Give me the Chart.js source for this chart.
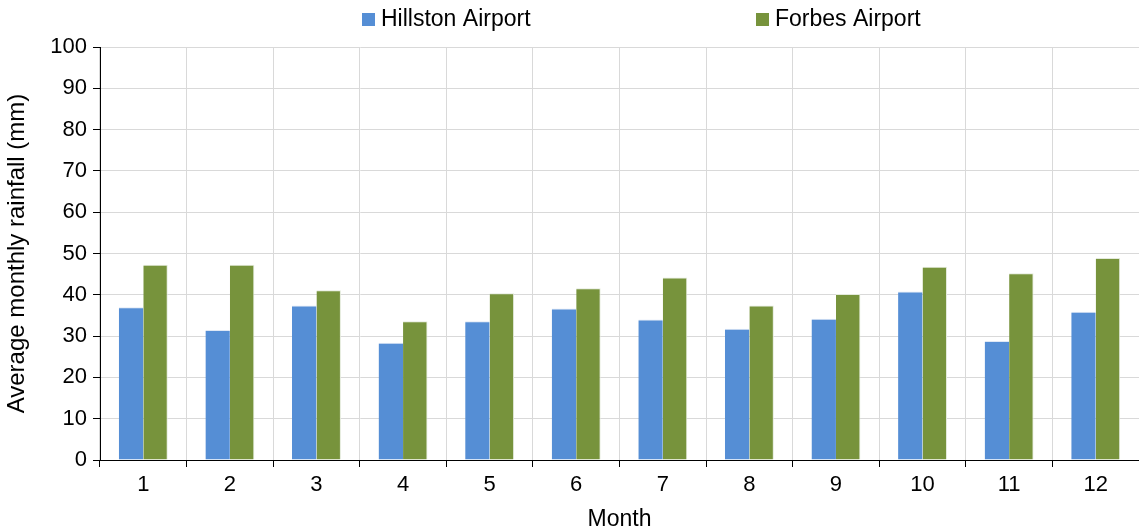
<!DOCTYPE html>
<html>
<head>
<meta charset="utf-8">
<script src="https://cdn.jsdelivr.net/npm/chart.js@4.4.1/dist/chart.umd.min.js"></script>
<style>
  html, body { margin: 0; padding: 0; background: #fff; }
  #wrap { width: 1139px; height: 531px; position: relative; }
</style>
</head>
<body>
<div id="wrap"><canvas id="chart"></canvas></div>
<script>
const months = ['1', '2', '3', '4', '5', '6', '7', '8', '9', '10', '11', '12'];
const hillston = [37.0, 31.5, 37.4, 28.4, 33.6, 36.7, 34.0, 31.8, 34.2, 40.8, 28.8, 35.9];
const forbes = [47.3, 47.3, 41.1, 33.6, 40.4, 41.6, 44.2, 37.4, 40.2, 46.8, 45.2, 48.9];
const seriesNames = ['Hillston Airport', 'Forbes Airport'];
const seriesColors = ['#558ED5', '#77933C'];

const FONT = 'Liberation Sans, Arial, sans-serif';

// legend drawn by hand: the built-in one can't space the two items this far apart
const wideLegend = {
  id: 'wideLegend',
  afterDraw(chart) {
    const ctx = chart.ctx;
    const xs = [362, 756];
    ctx.save();
    ctx.font = '23px ' + FONT;
    ctx.textBaseline = 'middle';
    seriesNames.forEach((name, i) => {
      ctx.fillStyle = seriesColors[i];
      ctx.fillRect(xs[i], 13, 13, 13);
      ctx.fillStyle = '#000';
      ctx.fillText(name, xs[i] + 19, 20);
    });
    ctx.restore();
  }
};

new Chart(document.getElementById('chart'), {
  type: 'bar',
  data: {
    labels: months,
    datasets: [
      {
        label: seriesNames[0],
        data: hillston,
        backgroundColor: seriesColors[0],
        borderColor: '#dfe8f5',
        borderWidth: { left: 0, right: 0, top: 1, bottom: 0 },
        categoryPercentage: 0.565,
        barPercentage: 1.0
      },
      {
        label: seriesNames[1],
        data: forbes,
        backgroundColor: seriesColors[1],
        borderColor: '#e3eadb',
        borderWidth: { left: 0, right: 1, top: 1, bottom: 0 },
        categoryPercentage: 0.565,
        barPercentage: 1.0
      }
    ]
  },
  options: {
    responsive: true,
    maintainAspectRatio: false,
    animation: false,
    // the original plot runs a few px past the right edge of the picture
    layout: { padding: { top: 47, right: -6, left: 0, bottom: 0 } },
    plugins: {
      legend: { display: false },
      tooltip: { enabled: false }
    },
    scales: {
      x: {
        afterFit: (s) => { s.height = 71; },
        grid: { color: '#d9d9d9', tickColor: '#000', tickLength: 7, offset: true },
        border: { color: '#000', width: 1 },
        ticks: { color: '#000', font: { family: FONT, size: 22 }, padding: 5 },
        title: { display: true, text: 'Month', color: '#000', font: { family: FONT, size: 23 }, padding: { top: 0, bottom: -2 } }
      },
      y: {
        min: 0,
        max: 100,
        afterFit: (s) => { s.width = 100; },
        ticks: { stepSize: 10, color: '#000', font: { family: FONT, size: 22 }, padding: 6 },
        grid: { color: '#d9d9d9', tickColor: '#000', tickLength: 7 },
        border: { color: '#000', width: 1 },
        title: { display: true, text: 'Average monthly rainfall (mm)', color: '#000', font: { family: FONT, size: 24 }, padding: { top: 3, bottom: 0 } }
      }
    }
  },
  plugins: [wideLegend]
});
</script>
</body>
</html>
